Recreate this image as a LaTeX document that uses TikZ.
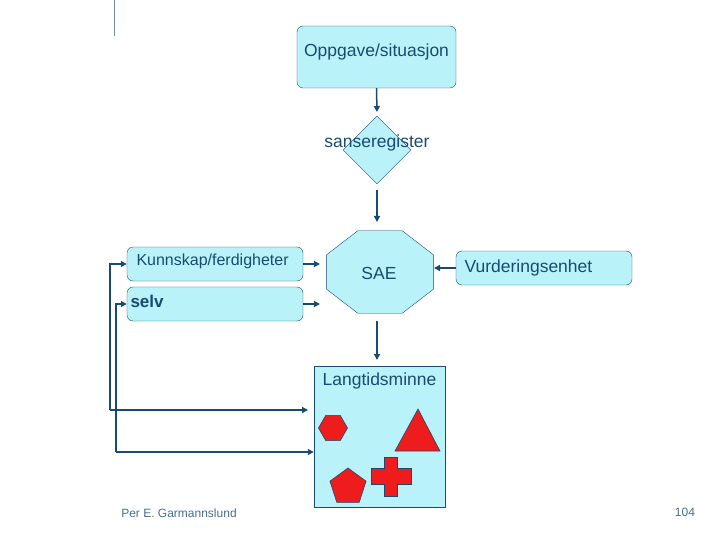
\documentclass[tikz,border=0pt]{standalone}
\usepackage{fontspec}
\setmainfont{Liberation Sans}
\usetikzlibrary{shapes.geometric,arrows.meta}
\definecolor{boxfill}{HTML}{B9F2F8}
\definecolor{ink}{HTML}{1A4A72}
\definecolor{redfill}{HTML}{EE1C1C}
\tikzset{
  box/.style={draw=ink, fill=boxfill, rounded corners=6pt, inner sep=0pt},
  arr/.style={-{Triangle[length=6pt,width=6pt]}, ink, line width=1.5pt},
  lbl/.style={text=ink, font=\fontsize{17.5}{20}\selectfont},
  red shape/.style={draw=ink, fill=redfill, line width=0.6pt}
}
\begin{document}
\begin{tikzpicture}[x=1pt,y=-1pt]
            \useasboundingbox (0,0) rectangle (720,540);
            \draw[ink!60, line width=1pt] (114,0) -- (114,36);

            \node[box, minimum width=159pt, minimum height=62pt] (O) at (376.5,57) {};
            \node[lbl] at (376.5,52) {Oppgave/situasjon};
            \node[draw=ink, fill=boxfill, diamond, minimum width=68pt, minimum height=68pt, inner sep=0pt] (S) at (377,150) {};
            \node[lbl] at (377,143) {sanseregister};
            \node[draw=ink, fill=boxfill, regular polygon, regular polygon sides=8, minimum size=116pt, inner sep=0pt, yscale=0.77] (SAE) at (380,272) {};
            \node[lbl] at (379,273) {SAE};
            \node[box, minimum width=176pt, minimum height=34pt] (V) at (544,268) {};
            \node[lbl, anchor=west] at (461,268) {Vurderingsenhet};
            \node[box, minimum width=176pt, minimum height=34pt] (K) at (215,264) {};
            \node[lbl, anchor=west, font=\fontsize{16}{19}\selectfont] at (133,261) {Kunnskap/ferdigheter};
            \node[box, minimum width=176pt, minimum height=34pt] (SV) at (215,304) {};
            \node[lbl, anchor=west, font=\fontsize{17}{20}\selectfont\bfseries] at (127,301) {selv};
            \node[draw=ink, fill=boxfill, minimum width=131pt, minimum height=141pt, inner sep=0pt] (L) at (379.5,436.5) {};
            \node[lbl] at (379.5,381) {Langtidsminne};

            \node[red shape, regular polygon, regular polygon sides=6, minimum size=29pt, inner sep=0pt] (hex) at (333,428) {};
            \node[red shape, regular polygon, regular polygon sides=5, minimum size=38pt, inner sep=0pt] (pent) at (348,487) {};
            \draw[red shape] (418,409) -- (440,451) -- (395,451) -- cycle;
            \draw[red shape] (384,457) -- (397,457) -- (397,468) -- (411,468) -- (411,484) -- (397,484) -- (397,496) -- (384,496) -- (384,484) -- (371,484) -- (371,468) -- (384,468) -- cycle;

            \coordinate (SAEt) at (377,222);
            \coordinate (SAEl1) at (320,264);
            \coordinate (SAEl2) at (320,304);
            \coordinate (SAEr) at (434,268);
            \coordinate (SAEb) at (377,321);
            \coordinate (Lt) at (377,360);
            \coordinate (Sb) at (377,190);
            \coordinate (Ob) at (377,112);
            \coordinate (c1) at (110,410);
            \coordinate (c2) at (116,452);
            \coordinate (L1) at (308,410);

            \draw[arr] (O.south) -- (Ob);
            \draw[arr] (Sb) -- (SAEt);
            \draw[arr] (K.east) -- (SAEl1);
            \draw[arr] (SV.east) -- (SAEl2);
            \draw[arr] (V.west) -- (SAEr);
            \draw[arr] (SAEb) -- (Lt);
            \draw[arr] (c1) |- (K.west);
            \draw[arr] (c1) -- (L1);
            \draw[arr] (c2) |- (SV.west);
            \draw[arr] (c2) -- (L.west |- c2);

            \node[text=ink!80, font=\fontsize{12}{14}\selectfont] (auth) at (179,513) {Per E. Garmannslund};
            \node[text=ink!80, font=\fontsize{12}{14}\selectfont] (page) at (685,512) {104};
        \end{tikzpicture}
\end{document}
